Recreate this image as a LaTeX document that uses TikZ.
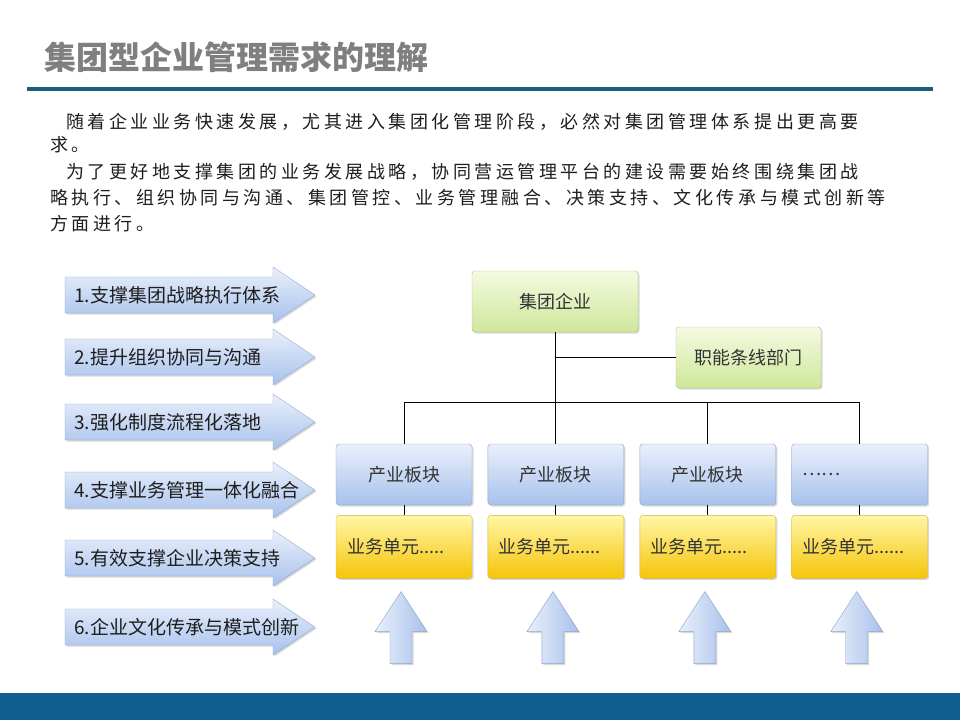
\documentclass[tikz,border=0pt]{standalone}
\usepackage{fontspec}
\setmainfont{Noto Sans CJK SC}
\newfontfamily\parafont[LetterSpace=19.5]{Noto Sans CJK SC}
\usetikzlibrary{positioning,shadows,calc}
\definecolor{titlegray}{HTML}{7F7F7F}
\definecolor{rulebar}{HTML}{1C5E7C}
\definecolor{footbar}{HTML}{0F5E8E}
\definecolor{bodytext}{HTML}{1E1E1E}
\definecolor{boxtext}{HTML}{333333}
\definecolor{greentop}{HTML}{F4FAE2}
\definecolor{greenbot}{HTML}{CFE79A}
\definecolor{greenline}{HTML}{AEC67C}
\definecolor{bluetop}{HTML}{EAF0FB}
\definecolor{bluebot}{HTML}{A7C1EC}
\definecolor{blueline}{HTML}{8FA4C8}
\definecolor{yellowtop}{HTML}{FFF6A6}
\definecolor{yellowbot}{HTML}{F6C508}
\definecolor{yellowline}{HTML}{D8B24A}

\begin{document}
\begin{tikzpicture}[x=1pt, y=-1pt,
    softshadow/.style={drop shadow={shadow xshift=1.5pt, shadow yshift=-1.5pt, opacity=0.3}},
    para/.style={anchor=west, inner sep=0pt, text=bodytext, font=\parafont\fontsize{18}{22}\selectfont},
    goalarrow/.style={draw=blueline, top color=bluetop, bottom color=bluebot, softshadow},
    goaltext/.style={anchor=west, inner sep=0pt, text=bodytext, font=\fontsize{19}{23}\selectfont},
    orgbox/.style={rounded corners=3pt, softshadow, text=boxtext, font=\fontsize{18}{22}\selectfont},
    groupbox/.style={orgbox, draw=greenline, top color=greentop, bottom color=greenbot, minimum width=166pt, minimum height=61pt},
    segbox/.style={orgbox, draw=blueline, top color=bluetop, bottom color=bluebot, minimum width=136pt, minimum height=61pt},
    unitbox/.style={orgbox, draw=yellowline, top color=yellowtop, bottom color=yellowbot, minimum height=63pt, text width=114pt, inner xsep=11pt, align=left},
    liftarrow/.style={draw=blueline, left color=bluetop, right color=bluebot, softshadow},
    tree/.style={draw=black, line width=1pt}
]
    \useasboundingbox (0,0) rectangle (960,720);
    \fill[white] (0,0) rectangle (960,720);

    % title and rule
    \node[anchor=west, inner sep=0pt, text=titlegray, font=\fontsize{32}{36}\selectfont\bfseries] (title) at (44,57) {集团型企业管理需求的理解};
    \fill[rulebar] (27,87) rectangle (933,91);

    % paragraph
    \node[para] (para1) at (66,122) {随着企业业务快速发展，尤其进入集团化管理阶段，必然对集团管理体系提出更高要};
    \node[para] (para2) at (50,145) {求。};
    \node[para] (para3) at (66,172) {为了更好地支撑集团的业务发展战略，协同营运管理平台的建设需要始终围绕集团战};
    \node[para] (para4) at (50,198) {略执行、组织协同与沟通、集团管控、业务管理融合、决策支持、文化传承与模式创新等};
    \node[para] (para5) at (50,224) {方面进行。};

    % left arrows
    \foreach \i/\y/\txt in {1/295/{1.支撑集团战略执行体系}, 2/357/{2.提升组织协同与沟通},
                            3/422/{3.强化制度流程化落地}, 4/490/{4.支撑业务管理一体化融合},
                            5/558/{5.有效支撑企业决策支持}, 6/627/{6.企业文化传承与模式创新}}{
        \path[goalarrow] (65,\y-18) -- (273,\y-18) -- (273,\y-28) -- (315,\y)
            -- (273,\y+28) -- (273,\y+18) -- (65,\y+18) -- cycle;
        \node[goaltext] (goal\i) at (74,\y) {\txt};
    }

    % org chart
    \node[groupbox] (group) at (555,301.5) {集团企业};
    \node[groupbox, minimum width=145pt] (func) at (748.5,357.5) {职能条线部门};

    \node[segbox] (seg1) at (404,474.5) {产业板块};
    \node[segbox, right=15.5pt of seg1] (seg2) {产业板块};
    \node[segbox, right=15.5pt of seg2] (seg3) {产业板块};
    \node[segbox, right=15.5pt of seg3, text width=114pt, inner xsep=11pt, align=left] (seg4) {……};

    \node[unitbox, below=10pt of seg1] (unit1) {业务单元.....};
    \node[unitbox, below=10pt of seg2] (unit2) {业务单元......};
    \node[unitbox, below=10pt of seg3] (unit3) {业务单元.....};
    \node[unitbox, below=10pt of seg4] (unit4) {业务单元......};

    \coordinate (bar) at (0,402);
    \draw[tree] (group.south) -- (group.south |- bar);
    \draw[tree] (func.west) -- (func.west -| group.south);
    \draw[tree] (seg1.north |- bar) -- (seg4.north |- bar);
    \foreach \i in {1,...,4}{
        \draw[tree] (seg\i.north) -- (seg\i.north |- bar);
        \draw[tree] (seg\i.south) -- (unit\i.north);
        \path[liftarrow] ($(unit\i.south)+(-3,13)$) -- ++(26,40) -- ++(-15,0) -- ++(0,32)
            -- ++(-22,0) -- ++(0,-32) -- ++(-15,0) -- cycle;
    }

    % footer
    \fill[footbar] (0,693) rectangle (960,720);
\end{tikzpicture}
\end{document}
